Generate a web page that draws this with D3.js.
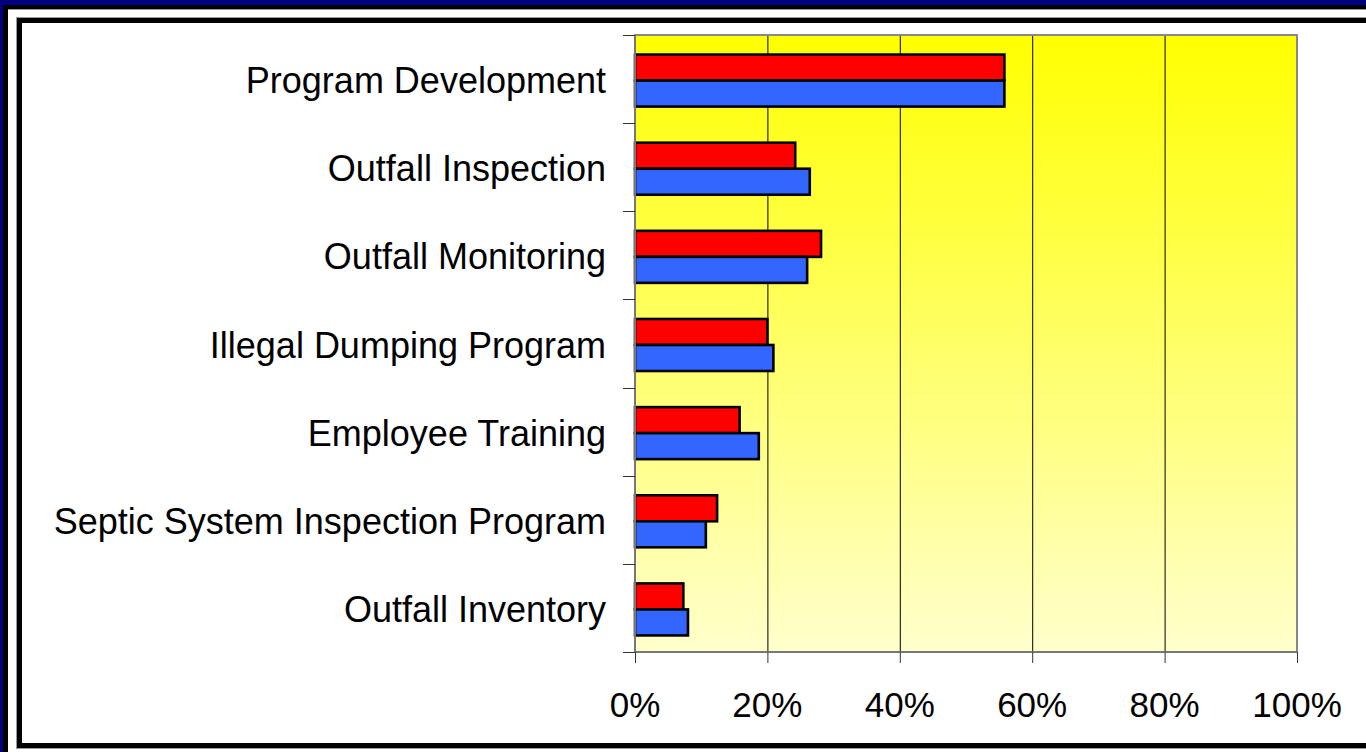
<!DOCTYPE html>
<html><head><meta charset="utf-8">
<script src="https://cdn.jsdelivr.net/npm/d3@7"></script>
<style>html,body{margin:0;padding:0;background:#fff;overflow:hidden}svg{display:block}</style>
</head><body>
<svg id="chart" width="1366" height="752"></svg>
<script>
const categories = ["Program Development","Outfall Inspection","Outfall Monitoring","Illegal Dumping Program","Employee Training","Septic System Inspection Program","Outfall Inventory"];
const seriesRed = [55.8, 24.2, 28.1, 20.0, 15.8, 12.4, 7.3];
const seriesBlue = [55.8, 26.4, 26.0, 20.9, 18.7, 10.7, 8.0];
const seriesNames = ["red","blue"];
const seriesColors = ["#ff0000","#3366ff"];
const xTicks = [0,20,40,60,80,100];

(function(){
const svg = d3.select("#chart");
const font = "'Liberation Sans', Arial, sans-serif";

// frame
svg.append("rect").attr("x",0).attr("y",0).attr("width",1400).attr("height",800).attr("fill","#000080");
svg.append("rect").attr("x",3).attr("y",5).attr("width",1400).attr("height",800).attr("fill","#000");
svg.append("rect").attr("x",8).attr("y",9).attr("width",1400).attr("height",800).attr("fill","#999");
svg.append("rect").attr("x",8).attr("y",10).attr("width",1400).attr("height",800).attr("fill","#fff");
svg.append("rect").attr("x",16).attr("y",17).attr("width",1400).attr("height",732).attr("fill","#999");
svg.append("rect").attr("x",17).attr("y",18).attr("width",1400).attr("height",730).attr("fill","#000");
svg.append("rect").attr("x",22).attr("y",23).attr("width",1400).attr("height",720).attr("fill","#fff");

const pL = 635, pR = 1297, pT = 35, pB = 652;
const x = d3.scaleLinear().domain([0,100]).range([pL,pR]);
const y = d3.scaleBand().domain(categories).range([pT+1.5,pB+1.5]).paddingInner(0.41).paddingOuter(0.205);
const ySub = d3.scaleBand().domain(seriesNames).range([0,y.bandwidth()]);
const yTickScale = d3.scaleLinear().domain([0,categories.length]).range([pT,pB]);

const defs = svg.append("defs");
const grad = defs.append("linearGradient").attr("id","bg").attr("x1",0).attr("y1",0).attr("x2",0).attr("y2",1);
grad.append("stop").attr("offset","0%").attr("stop-color","#ffff00");
grad.append("stop").attr("offset","100%").attr("stop-color","#ffffcc");

svg.append("rect").attr("x",pL).attr("y",pT).attr("width",pR-pL).attr("height",pB-pT).attr("fill","url(#bg)");

// gridlines
svg.append("g").selectAll("line").data(xTicks.slice(1,-1)).join("line")
  .attr("x1",d=>x(d)+0.5).attr("x2",d=>x(d)+0.5).attr("y1",pT).attr("y2",pB)
  .attr("stroke","#000").attr("stroke-width",1);

// plot border
svg.append("rect").attr("x",pL).attr("y",pT).attr("width",pR-pL).attr("height",pB-pT)
  .attr("fill","none").attr("stroke","#888").attr("stroke-width",2);

// bars
const data = [];
categories.forEach((c,i)=>{
  data.push({cat:c,s:"red",v:seriesRed[i]});
  data.push({cat:c,s:"blue",v:seriesBlue[i]});
});
const colorScale = d3.scaleOrdinal().domain(seriesNames).range(seriesColors);
svg.append("g").selectAll("rect").data(data).join("rect")
  .attr("x",x(0)).attr("y",d=>y(d.cat)+ySub(d.s))
  .attr("width",d=>x(d.v)-x(0)).attr("height",ySub.bandwidth())
  .attr("fill",d=>colorScale(d.s)).attr("stroke","#000").attr("stroke-width",2.6);

// axes lines
svg.append("line").attr("x1",pL).attr("x2",pL).attr("y1",pT).attr("y2",pB).attr("stroke","#777").attr("stroke-width",2);
svg.append("line").attr("x1",pL).attr("x2",pR).attr("y1",pB).attr("y2",pB).attr("stroke","#777").attr("stroke-width",2);

// y ticks (category boundaries)
svg.append("g").selectAll("line").data(d3.range(categories.length+1)).join("line")
  .attr("x1",pL-12).attr("x2",pL).attr("y1",d=>Math.round(yTickScale(d))+0.5).attr("y2",d=>Math.round(yTickScale(d))+0.5)
  .attr("stroke","#333").attr("stroke-width",1);
// x ticks
svg.append("g").selectAll("line").data(xTicks).join("line")
  .attr("x1",d=>x(d)+0.5).attr("x2",d=>x(d)+0.5).attr("y1",pB).attr("y2",pB+11)
  .attr("stroke","#333").attr("stroke-width",1);

// category labels
svg.append("g").selectAll("text").data(categories).join("text")
  .attr("x",606).attr("y",d=>y(d)+y.bandwidth()/2).attr("dy","0.35em")
  .attr("text-anchor","end").attr("font-family",font).attr("font-size",36).attr("fill","#000")
  .text(d=>d);

// x tick labels
svg.append("g").selectAll("text").data(xTicks).join("text")
  .attr("x",d=>x(d)).attr("y",717)
  .attr("text-anchor","middle").attr("font-family",font).attr("font-size",35).attr("fill","#000")
  .text(d=>d+"%");
})();
</script>
</body></html>
